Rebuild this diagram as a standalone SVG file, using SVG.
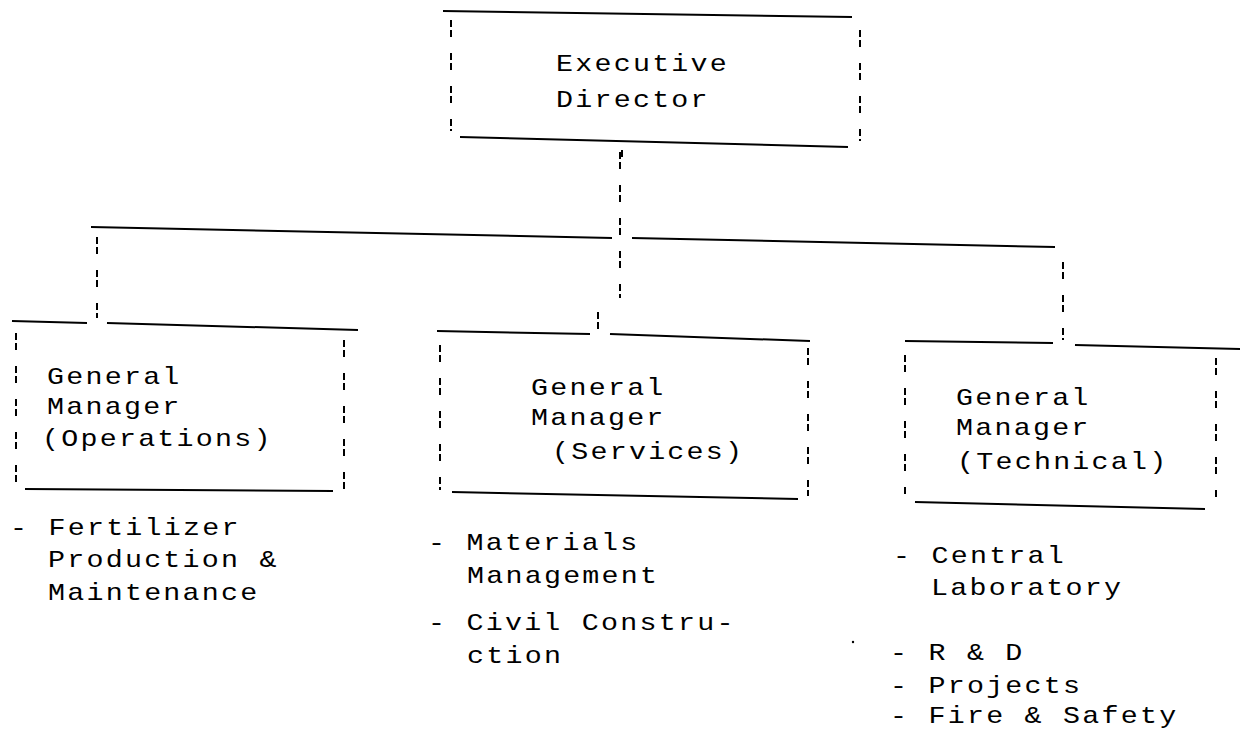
<svg xmlns="http://www.w3.org/2000/svg" width="1240" height="735" viewBox="0 0 1240 735">
<style>
.t{font-family:"Liberation Mono","DejaVu Sans Mono",monospace;font-size:24px;letter-spacing:1.9px;fill:#000}
.s{stroke:#000;stroke-width:2;fill:none}
.d{stroke:#000;stroke-width:2;fill:none;stroke-dasharray:7 3 7 16}
</style>
<rect width="1240" height="735" fill="#fff"/>
<g id="connectors">
<line class="d" x1="620" y1="152" x2="620" y2="298"/>
<line class="s" x1="91" y1="227" x2="612" y2="238"/>
<line class="s" x1="632" y1="238" x2="1055" y2="247"/>
<line class="d" x1="97" y1="237" x2="97" y2="318"/>
<line class="d" x1="1063" y1="262" x2="1063" y2="340"/>
<line class="d" x1="598" y1="312" x2="598" y2="330"/>
<line class="d" x1="622" y1="150" x2="622" y2="157"/>
</g>
<g id="executive-director">
<line class="s" x1="443" y1="11" x2="852" y2="17"/>
<line class="d" x1="451" y1="20" x2="451" y2="131"/>
<line class="d" x1="860" y1="30" x2="860" y2="141"/>
<line class="s" x1="460" y1="137" x2="848" y2="147"/>
<text class="t" transform="translate(556,71) scale(1.18,1)">Executive</text>
<text class="t" transform="translate(556,107) scale(1.18,1)">Director</text>
</g>
<g id="gm-operations">
<line class="s" x1="12" y1="321" x2="87" y2="323"/>
<line class="s" x1="107" y1="323" x2="358" y2="330"/>
<line class="d" x1="16" y1="333" x2="16" y2="490"/>
<line class="d" x1="344" y1="340" x2="344" y2="492"/>
<line class="s" x1="25" y1="489" x2="333" y2="491"/>
<text class="t" transform="translate(47,384) scale(1.18,1)">General</text>
<text class="t" transform="translate(47,414) scale(1.18,1)">Manager</text>
<text class="t" transform="translate(42,446) scale(1.18,1)">(Operations)</text>
<text class="t" transform="translate(10,535) scale(1.18,1)">- Fertilizer</text>
<text class="t" transform="translate(48,567) scale(1.18,1)">Production &amp;</text>
<text class="t" transform="translate(48,600) scale(1.18,1)">Maintenance</text>
</g>
<g id="gm-services">
<line class="s" x1="437" y1="331" x2="590" y2="334"/>
<line class="s" x1="610" y1="334" x2="810" y2="341"/>
<line class="d" x1="440" y1="345" x2="440" y2="490"/>
<line class="d" x1="808" y1="348" x2="808" y2="496"/>
<line class="s" x1="452" y1="492" x2="798" y2="499"/>
<text class="t" transform="translate(531,395) scale(1.18,1)">General</text>
<text class="t" transform="translate(531,425) scale(1.18,1)">Manager</text>
<text class="t" transform="translate(552,459) scale(1.18,1)">(Services)</text>
<text class="t" transform="translate(428,550) scale(1.18,1)">- Materials</text>
<text class="t" transform="translate(467,583) scale(1.18,1)">Management</text>
<text class="t" transform="translate(428,630) scale(1.18,1)">- Civil Constru-</text>
<text class="t" transform="translate(467,663) scale(1.18,1)">ction</text>
</g>
<g id="gm-technical">
<line class="s" x1="905" y1="341" x2="1053" y2="343"/>
<line class="s" x1="1075" y1="345" x2="1240" y2="349"/>
<line class="d" x1="905" y1="355" x2="905" y2="497"/>
<line class="d" x1="1216" y1="358" x2="1216" y2="500"/>
<line class="s" x1="915" y1="502" x2="1205" y2="509"/>
<text class="t" transform="translate(956,405) scale(1.18,1)">General</text>
<text class="t" transform="translate(956,435) scale(1.18,1)">Manager</text>
<text class="t" transform="translate(957,469) scale(1.18,1)">(Technical)</text>
<text class="t" transform="translate(893,563) scale(1.18,1)">- Central</text>
<text class="t" transform="translate(931,595) scale(1.18,1)">Laboratory</text>
<text class="t" transform="translate(890,660) scale(1.18,1)">- R &amp; D</text>
<text class="t" transform="translate(890,693) scale(1.18,1)">- Projects</text>
<text class="t" transform="translate(890,723) scale(1.18,1)">- Fire &amp; Safety</text>
</g>
<circle cx="853" cy="642" r="1.2" fill="#000"/>
</svg>
